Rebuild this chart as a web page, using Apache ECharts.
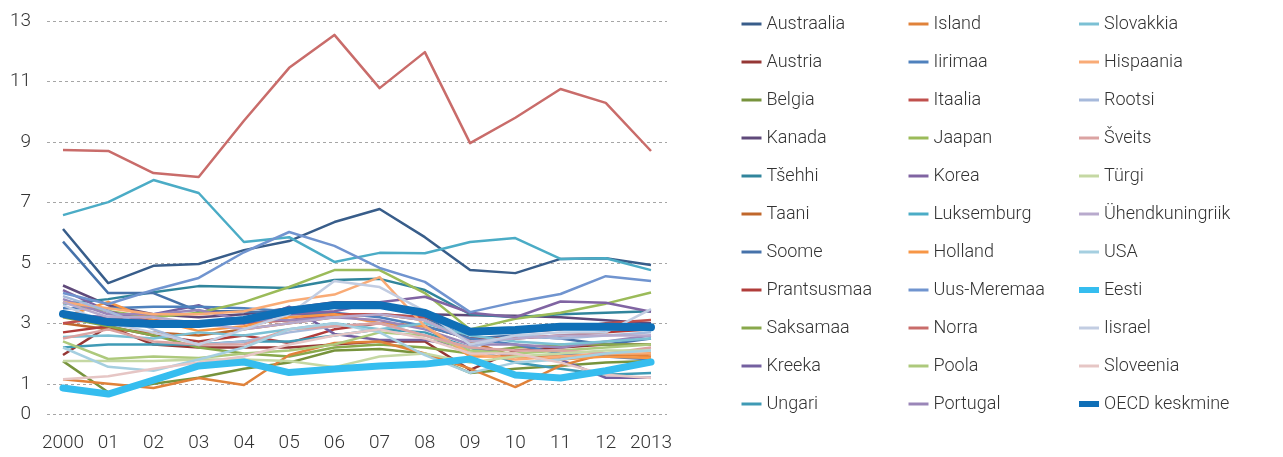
<!DOCTYPE html>
<html>
<head>
<meta charset="utf-8">
<script src="https://cdn.jsdelivr.net/npm/echarts@6/dist/echarts.min.js"></script>
<style>
  html, body { margin: 0; padding: 0; background: #fff; }
  #chart { width: 1283px; height: 457px; }
</style>
</head>
<body>
<div id="chart"></div>
<script>
// Years on the x axis and the y-axis tick values
const years = ['2000', '01', '02', '03', '04', '05', '06', '07', '08', '09', '10', '11', '12', '2013'];
const yTicks = [0, 1, 3, 5, 7, 9, 11, 13];

// Values per country, 2000–2013
const austraalia      = [6.12, 4.33, 4.90, 4.96, 5.42, 5.72, 6.35, 6.78, 5.85, 4.76, 4.66, 5.13, 5.15, 4.93];
const austria         = [1.95, 2.90, 2.30, 2.20, 2.20, 2.20, 2.30, 2.40, 2.40, 1.46, 2.10, 2.20, 2.30, 2.30];
const belgia          = [1.75, 0.72, 1.00, 1.20, 1.50, 1.70, 2.10, 2.15, 2.00, 1.36, 1.50, 1.60, 1.70, 1.75];
const kanada          = [4.25, 3.60, 3.30, 3.20, 3.30, 3.50, 3.70, 3.70, 3.30, 3.27, 3.25, 3.20, 3.10, 3.00];
const tsehhi          = [3.65, 3.80, 4.03, 4.23, 4.20, 4.17, 4.43, 4.47, 4.10, 3.30, 3.20, 3.30, 3.35, 3.40];
const taani           = [3.00, 2.80, 2.70, 2.60, 2.80, 3.00, 3.20, 3.30, 3.10, 2.40, 1.90, 1.90, 1.90, 2.00];
const soome           = [5.70, 4.00, 4.00, 3.40, 3.40, 3.30, 3.30, 3.30, 3.20, 2.50, 2.60, 2.50, 2.30, 2.50];
const prantsusmaa     = [2.70, 2.90, 2.60, 2.40, 2.60, 2.35, 2.80, 3.00, 2.90, 2.50, 2.50, 2.60, 2.70, 2.80];
const saksamaa        = [3.20, 2.90, 2.60, 2.20, 2.00, 1.90, 2.20, 2.30, 2.20, 2.00, 2.20, 2.30, 2.30, 2.30];
const kreeka          = [3.30, 3.20, 3.30, 3.60, 3.00, 3.55, 2.65, 2.45, 2.45, 2.20, 1.90, 1.80, 1.20, 1.20];
const ungari          = [2.20, 2.30, 2.30, 2.30, 2.40, 2.40, 2.60, 2.80, 2.70, 2.20, 1.70, 1.50, 1.30, 1.36];
const island          = [1.15, 1.00, 0.86, 1.19, 0.96, 1.95, 2.35, 2.40, 2.00, 1.50, 0.89, 1.60, 2.00, 1.90];
const iirimaa         = [3.50, 3.50, 3.55, 3.55, 3.50, 3.40, 3.35, 3.20, 2.90, 2.50, 2.30, 2.00, 1.90, 1.80];
const itaalia         = [3.00, 3.20, 3.10, 3.00, 3.00, 3.10, 3.30, 3.30, 3.20, 2.80, 2.70, 2.80, 3.00, 3.11];
const jaapan          = [3.70, 3.40, 3.20, 3.35, 3.70, 4.20, 4.76, 4.76, 4.00, 2.80, 3.15, 3.35, 3.65, 4.02];
const korea           = [4.10, 3.40, 3.00, 3.00, 3.00, 3.30, 3.40, 3.70, 3.88, 3.35, 3.20, 3.72, 3.68, 3.38];
const luksemburg      = [6.58, 7.01, 7.74, 7.31, 5.69, 5.85, 5.03, 5.33, 5.32, 5.69, 5.82, 5.13, 5.15, 4.76];
const holland         = [3.20, 3.71, 3.10, 2.75, 2.90, 3.20, 3.30, 3.00, 2.90, 1.90, 1.90, 1.80, 1.90, 1.85];
const uusMeremaa      = [4.00, 3.64, 4.10, 4.50, 5.35, 6.02, 5.56, 4.83, 4.37, 3.37, 3.70, 3.97, 4.56, 4.40];
const norra           = [8.73, 8.70, 7.97, 7.84, 9.70, 11.45, 12.54, 10.78, 11.97, 8.96, 9.80, 10.75, 10.29, 8.70];
const poola           = [2.40, 1.82, 1.90, 1.85, 2.00, 2.10, 2.30, 2.70, 2.60, 2.10, 2.00, 2.10, 2.20, 2.30];
const portugal        = [3.80, 3.30, 3.30, 3.44, 3.10, 3.10, 3.20, 3.10, 2.80, 2.30, 2.30, 2.20, 2.40, 2.60];
const slovakkia       = [2.55, 2.60, 2.50, 2.70, 2.60, 2.80, 3.00, 2.80, 3.00, 2.60, 2.40, 2.30, 2.40, 2.50];
const hispaania       = [3.70, 3.50, 3.30, 3.30, 3.40, 3.74, 3.95, 4.53, 2.90, 2.00, 1.80, 1.90, 2.00, 2.00];
const rootsi          = [3.90, 3.40, 2.80, 2.28, 2.40, 2.70, 2.90, 3.00, 2.60, 2.20, 2.60, 2.50, 2.60, 2.70];
const sveits          = [2.50, 2.80, 2.40, 2.30, 2.30, 2.80, 2.90, 3.00, 2.60, 2.20, 2.10, 2.10, 2.00, 2.20];
const turgi           = [1.75, 1.75, 1.75, 1.80, 1.80, 1.75, 1.55, 1.90, 2.00, 1.70, 1.90, 2.00, 2.10, 2.10];
const uhendkuningriik = [3.70, 3.20, 3.20, 3.00, 2.80, 3.00, 3.20, 3.30, 3.10, 2.40, 2.50, 2.60, 2.60, 2.60];
const usa             = [2.20, 1.56, 1.43, 1.80, 2.20, 2.80, 3.00, 2.70, 1.95, 1.36, 1.70, 1.80, 2.00, 2.10];
const eesti           = [0.86, 0.66, 1.12, 1.59, 1.72, 1.37, 1.49, 1.59, 1.65, 1.82, 1.29, 1.19, 1.43, 1.72];
const iisrael         = [3.60, 3.00, 2.70, 2.30, 2.80, 3.30, 4.40, 4.20, 3.40, 2.30, 2.60, 2.70, 2.70, 3.47];
const sloveenia       = [1.15, 1.25, 1.50, 1.70, 1.90, 2.30, 2.60, 2.80, 2.50, 2.00, 2.00, 1.70, 1.30, 1.19];
const oecdKeskmine    = [3.31, 3.04, 2.98, 2.98, 3.11, 3.42, 3.60, 3.60, 3.34, 2.72, 2.78, 2.89, 2.89, 2.87];

// Legend columns (names in drawing order)
const col1 = ['Austraalia', 'Austria', 'Belgia', 'Kanada', 'Tšehhi', 'Taani', 'Soome', 'Prantsusmaa', 'Saksamaa', 'Kreeka', 'Ungari'];
const col2 = ['Island', 'Iirimaa', 'Itaalia', 'Jaapan', 'Korea', 'Luksemburg', 'Holland', 'Uus-Meremaa', 'Norra', 'Poola', 'Portugal'];
const col3 = ['Slovakkia', 'Hispaania', 'Rootsi', 'Šveits', 'Türgi', 'Ühendkuningriik', 'USA', 'Eesti', 'Iisrael', 'Sloveenia', 'OECD keskmine'];

const values = [
  austraalia, austria, belgia, kanada, tsehhi, taani, soome, prantsusmaa, saksamaa, kreeka, ungari,
  island, iirimaa, itaalia, jaapan, korea, luksemburg, holland, uusMeremaa, norra, poola, portugal,
  slovakkia, hispaania, rootsi, sveits, turgi, uhendkuningriik, usa, eesti, iisrael, sloveenia, oecdKeskmine
];

const colors = [
  '#385d8a', '#953735', '#77933c', '#5f497a', '#31859c', '#c0672b', '#4672aa', '#b03c3a', '#88a84b', '#7460a0', '#3f9ab5',
  '#e0823a', '#4f81bd', '#c0504d', '#9bbb59', '#8064a2', '#4bacc6', '#f79646', '#7094cf', '#c96c6a', '#adc97c', '#9a86b8',
  '#7bc0d4', '#f9ab76', '#a6b9db', '#dba3a2', '#c5d8a3', '#b8aacd', '#a5cfe0', '#35bdef', '#c2cde2', '#e6c6c5', '#0f6fb7'
];

const names = col1.concat(col2, col3);
const thick = { 'Eesti': 7, 'OECD keskmine': 8 };

const series = names.map((name, i) => ({
  name: name,
  type: 'line',
  xAxisIndex: 1,
  yAxisIndex: 1,
  data: values[i],
  symbol: 'none',
  silent: true,
  z: thick[name] ? 5 : 2,
  lineStyle: {
    color: colors[i],
    width: thick[name] || 2.5,
    cap: thick[name] ? 'round' : 'butt',
    join: 'round'
  },
  itemStyle: { color: colors[i] }
}));

const textFont = { fontFamily: 'Roboto', fontWeight: 300, color: '#333333' };

function legendCol(data, left) {
  return {
    data: data.map(n => thick[n]
      ? { name: n, lineStyle: { width: 6, cap: 'butt' } }
      : { name: n }),
    orient: 'vertical',
    left: left,
    top: 9,
    itemWidth: 20,
    itemHeight: 14,
    itemGap: 18,
    selectedMode: false,
    // the line icon only, without the marker dot
    itemStyle: { opacity: 0 },
    lineStyle: { width: 3 },
    textStyle: Object.assign({ fontSize: 18, lineHeight: 20 }, textFont)
  };
}

const chart = echarts.init(document.getElementById('chart'), null, { renderer: 'canvas' });
chart.setOption({
  animation: false,
  backgroundColor: '#ffffff',
  legend: [legendCol(col1, 735), legendCol(col2, 902), legendCol(col3, 1071)],
  grid: [
    { left: 47, right: 616, top: 21, bottom: 43 },
    { left: 63, right: 632, top: 21, bottom: 43 }
  ],
  xAxis: [
    { gridIndex: 0, type: 'category', data: years, show: false },
    {
      gridIndex: 1, type: 'category', data: years, boundaryGap: false,
      axisLine: { show: false }, axisTick: { show: false }, splitLine: { show: false },
      axisLabel: Object.assign({ fontSize: 19, margin: 20, interval: 0 }, textFont)
    }
  ],
  yAxis: [
    {
      gridIndex: 0, type: 'value', min: 0, max: 13,
      axisLine: { show: false },
      axisTick: { show: false, customValues: yTicks },
      axisLabel: Object.assign({ fontSize: 19, margin: 16, customValues: yTicks }, textFont),
      splitLine: { show: true, lineStyle: { color: '#a6a6a6', type: [3, 3], width: 1 } }
    },
    { gridIndex: 1, type: 'value', min: 0, max: 13, show: false, splitLine: { show: false } }
  ],
  series: series
});
</script>
</body>
</html>
